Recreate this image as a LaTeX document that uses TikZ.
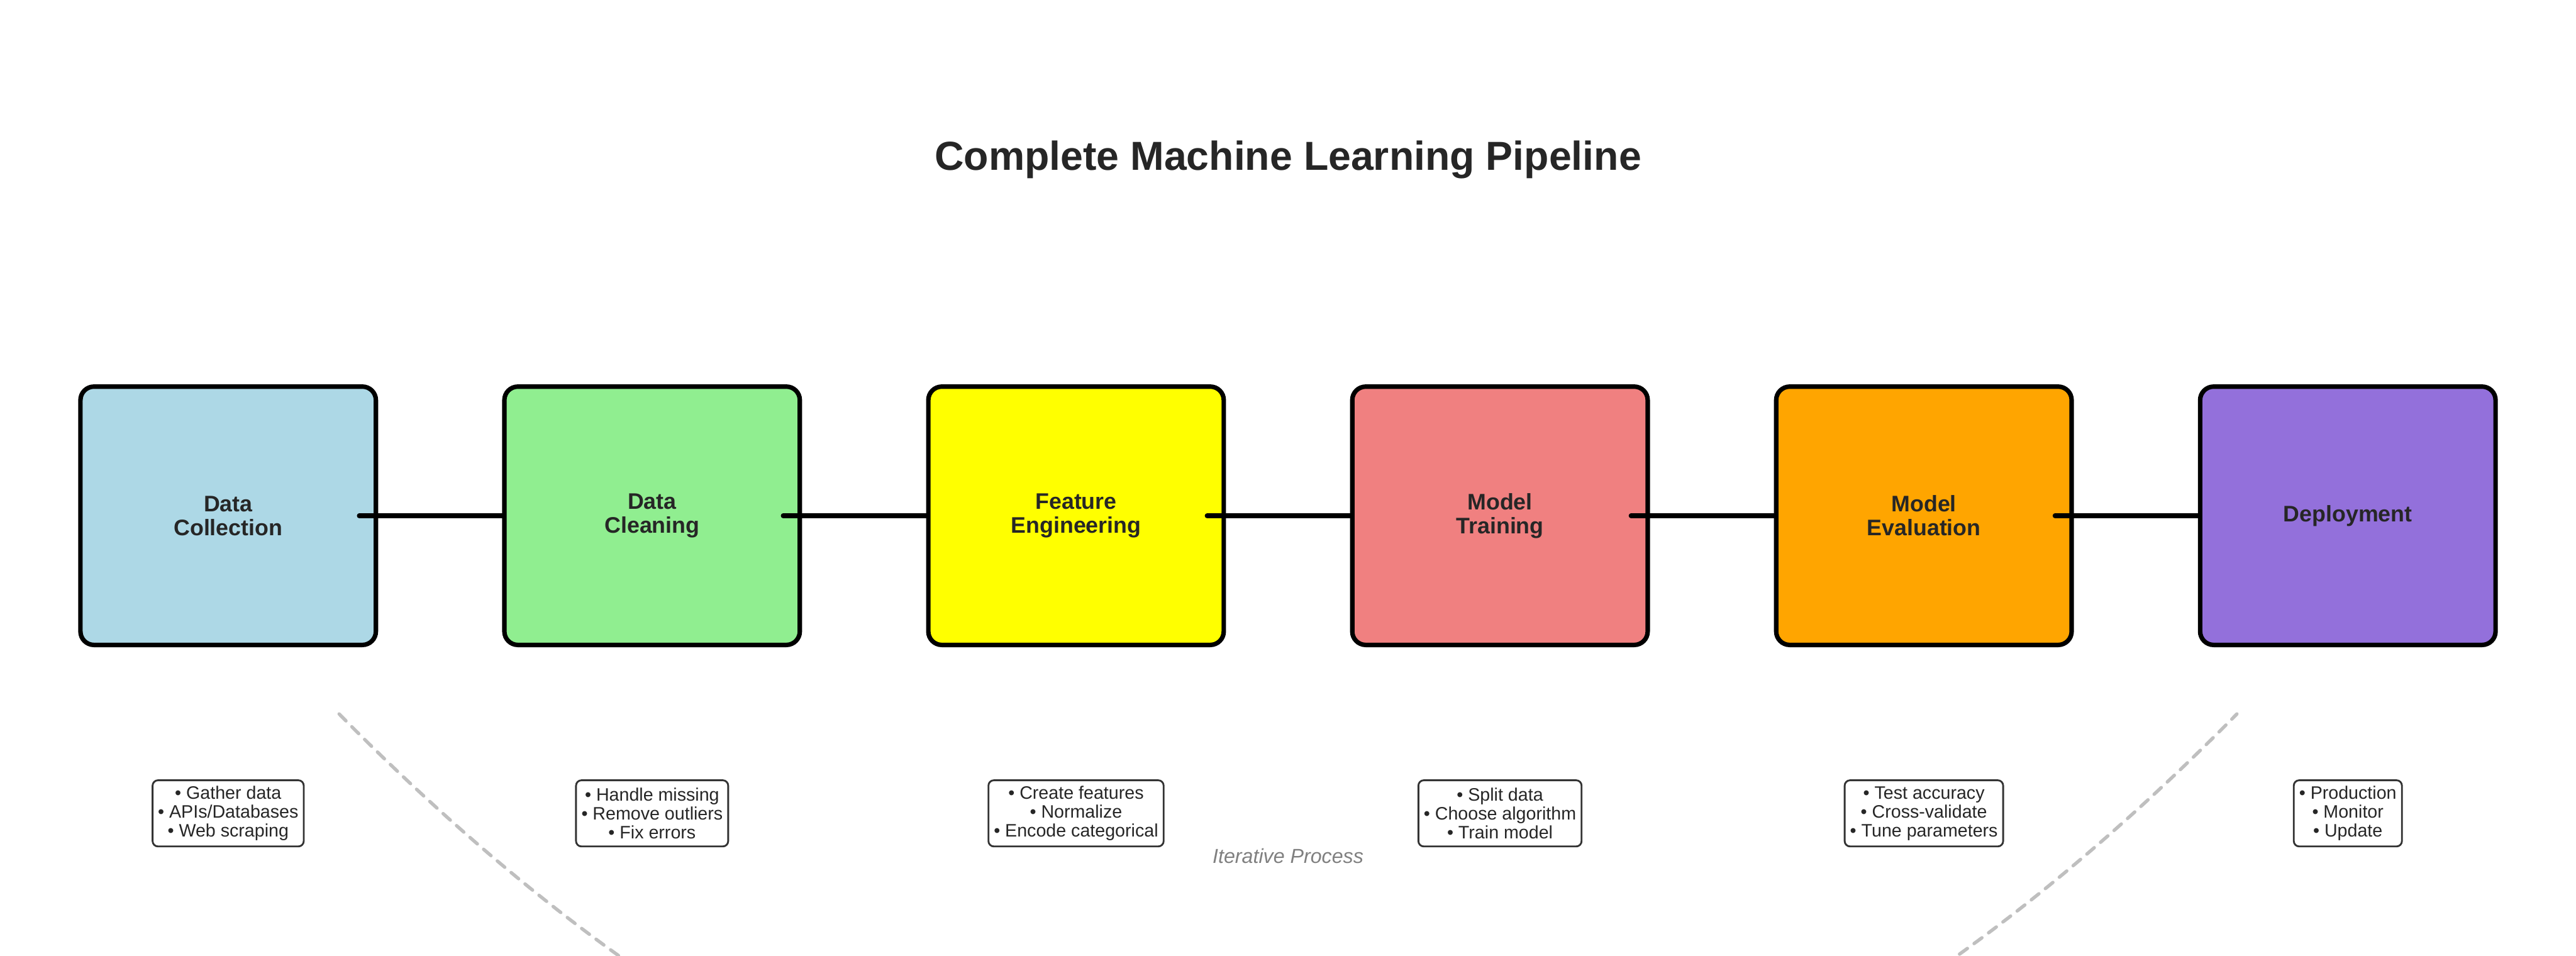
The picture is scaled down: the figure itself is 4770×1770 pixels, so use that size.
\documentclass[tikz,border=0pt]{standalone}
\usepackage{fontspec}
\setmainfont{Liberation Sans}
\definecolor{txt}{HTML}{262626}
\definecolor{descline}{HTML}{333333}
\definecolor{cA}{HTML}{ADD8E6}
\definecolor{cB}{HTML}{90EE90}
\definecolor{cC}{HTML}{FFFF00}
\definecolor{cD}{HTML}{F08080}
\definecolor{cE}{HTML}{FFA500}
\definecolor{cF}{HTML}{9370DB}
\definecolor{arcgray}{HTML}{BFBFBF}
\tikzset{
  stagebox/.style={draw=black, line width=2pt, rounded corners=6pt,
    minimum width=131.3pt, minimum height=114.8pt, inner sep=0pt,
    align=center, text=txt, font=\fontsize{10}{10.6}\selectfont\bfseries},
  descbox/.style={draw=descline, line width=0.8pt, rounded corners=2.4pt, fill=white,
    minimum height=29.4pt, inner xsep=2.4pt, inner ysep=1pt,
    align=center, text=txt, font=\fontsize{8}{8.4}\selectfont},
  conn/.style={draw=black, line width=2.1pt, line cap=round},
  iterarc/.style={draw=arcgray, line width=1.5pt, line cap=round, dash pattern=on 4.3pt off 3.7pt},
  titletext/.style={text=txt, font=\fontsize{18}{21}\selectfont\bfseries, inner sep=0pt},
  notetext/.style={text=gray, font=\fontsize{9}{11}\selectfont\itshape, inner sep=0pt}
}
\begin{document}
\begin{tikzpicture}[x=0.24pt, y=-0.24pt]
\useasboundingbox[fill=white] (0,0) rectangle (4770,1770);

% iterative arc
\begin{scope}
\clip (0,0) rectangle (4770,1770);
\coordinate (arcS) at (628,1322);
\coordinate (arcE) at (4142,1322);
\draw[iterarc] (arcS) .. controls (1800,2510) and (2970,2510) .. (arcE);
\end{scope}

% title
\node[titletext, anchor=base] (title) at (2385,315) {Complete Machine Learning Pipeline};

% stages
\node[stagebox, fill=cA] (b1) at (422.5,955) {Data\\Collection};
\node[stagebox, fill=cB] (b2) at (1207.5,955) {Data\\Cleaning};
\node[stagebox, fill=cC] (b3) at (1992.5,955) {Feature\\Engineering};
\node[stagebox, fill=cD] (b4) at (2777.5,955) {Model\\Training};
\node[stagebox, fill=cE] (b5) at (3562.5,955) {Model\\Evaluation};
\node[stagebox, fill=cF] (b6) at (4347.5,955) {Deployment};

% connectors
\draw[conn] ([xshift=-8.4pt]b1.east) -- (b2.west);
\draw[conn] ([xshift=-8.4pt]b2.east) -- (b3.west);
\draw[conn] ([xshift=-8.4pt]b3.east) -- (b4.west);
\draw[conn] ([xshift=-8.4pt]b4.east) -- (b5.west);
\draw[conn] ([xshift=-8.4pt]b5.east) -- (b6.west);

% descriptions
\node[descbox] (d1) at (422.5,1506) {• Gather data\\• APIs/Databases\\• Web scraping};
\node[descbox] (d2) at (1207.5,1506) {• Handle missing\\• Remove outliers\\• Fix errors};
\node[descbox] (d3) at (1992.5,1506) {• Create features\\• Normalize\\• Encode categorical};
\node[descbox] (d4) at (2777.5,1506) {• Split data\\• Choose algorithm\\• Train model};
\node[descbox] (d5) at (3562.5,1506) {• Test accuracy\\• Cross-validate\\• Tune parameters};
\node[descbox] (d6) at (4347.5,1506) {• Production\\• Monitor\\• Update};

% note
\node[notetext, anchor=base] (note) at (2385,1598) {Iterative Process};
\end{tikzpicture}
\end{document}
